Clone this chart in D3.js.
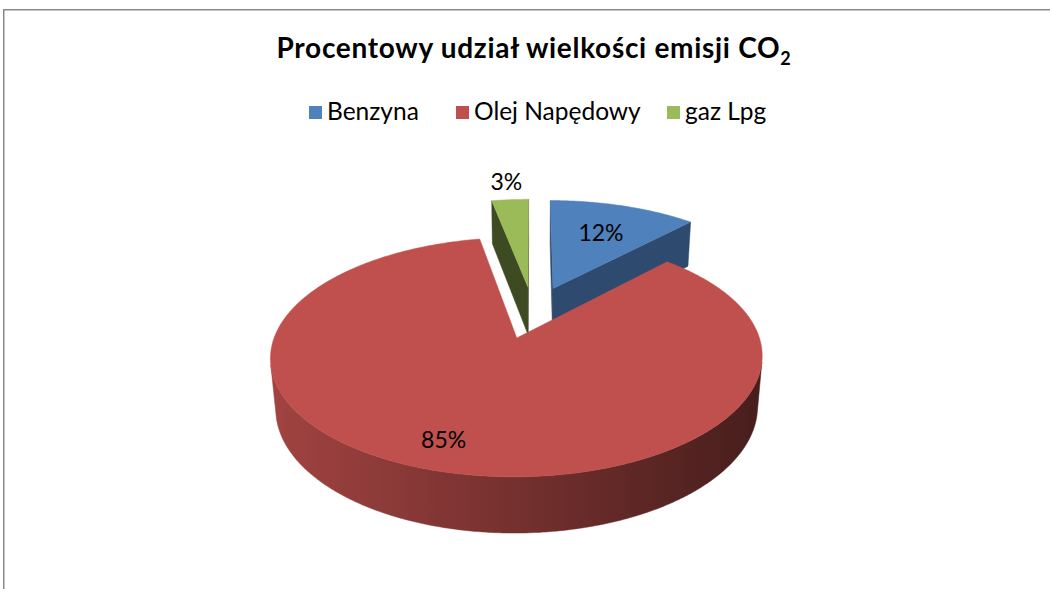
<!DOCTYPE html>
<html><head><meta charset="utf-8">
<script src="https://cdn.jsdelivr.net/npm/d3@7"></script>
<style>body{margin:0;background:#fff} svg{display:block}</style>
</head><body>
<svg id="chart" width="1050" height="589"></svg>
<script>
// ---- data ----
const categories = ["Benzyna", "Olej Napędowy", "gaz Lpg"];
const values = [12, 85, 3];
const labelTexts = ["12%", "85%", "3%"];
const titleMain = "Procentowy udział wielkości emisji CO";
const titleSub = "2";
// ---- style ----
const topColors = ["#4F81BD", "#C0504D", "#9BBB59"];
const radialColors = ["#2E4A6F", "#7A302E", "#3D4A22"];
const labelPlace = [{da: 0, r: 0.65}, {da: 2.5, r: 0.8}, {da: 0, r: 1.25}];
const FONT = "Lato, 'Open Sans', sans-serif";

const W = 1050, H = 589;
const svg = d3.select("#chart");
const defs = svg.append("defs");
svg.append("rect").attr("width", W).attr("height", H).attr("fill", "#fff");
svg.append("path").attr("d", "M3.75,589 V9.75 H1050").attr("fill", "none")
  .attr("stroke", "#8a8a8a").attr("stroke-width", 1.5);

// ---- 3D projection ----
const view = {cx: 533, cy: 312, s: 234, tilt: 27.6 * Math.PI / 180, p: 0.175, explode: 0.24, depth: 0.24};
const ca = Math.cos(view.tilt), sa = Math.sin(view.tilt);
const D = 1 / view.p;
const cam = [0, D * sa, -D * ca];
function project(X, Y, Z) {
  const den = 1 + view.p * (Z * ca - Y * sa);
  return [view.cx + view.s * X / den, view.cy - view.s * (Y * ca + Z * sa) / den];
}
function depthOf(X, Y, Z) { return Z * ca - Y * sa; }
function visible(n, P) {
  return n[0] * (cam[0] - P[0]) + n[1] * (cam[1] - P[1]) + n[2] * (cam[2] - P[2]) > 0;
}

const pie = d3.pie().sort(null).value(d => d).startAngle(0).endAngle(2 * Math.PI);
const arcs = pie(values);
const color = d3.scaleOrdinal().domain(categories).range(topColors);
const line = d3.line();

const sideFaces = [], topFaces = [];
const step = Math.PI / 360;
arcs.forEach((a, i) => {
  const m = (a.startAngle + a.endAngle) / 2;
  const ox = view.explode * Math.sin(m), oz = view.explode * Math.cos(m);
  const pt = (t, r, Y) => [ox + r * Math.sin(t), Y, oz + r * Math.cos(t)];
  const hY = -view.depth;
  const base = d3.color(color(categories[i]));
  const light = d3.interpolateRgb(base, "#000")(0.16);
  const dark = d3.interpolateRgb(base, "#000")(0.63);
  // curved outer side: collect visible angles, build one polygon with gradient
  const n = Math.max(2, Math.ceil((a.endAngle - a.startAngle) / step));
  const vis = [];
  for (let k = 0; k <= n; k++) {
    const t = a.startAngle + (a.endAngle - a.startAngle) * k / n;
    const nrm = [Math.sin(t), 0, Math.cos(t)];
    if (visible(nrm, pt(t, 1, hY / 2))) vis.push(t);
  }
  if (vis.length > 1) {
    const topArc = vis.map(t => project(...pt(t, 1, 0)));
    const botArc = vis.map(t => project(...pt(t, 1, hY))).reverse();
    const poly = topArc.concat(botArc);
    const xs = poly.map(p => p[0]);
    const gid = "side" + i;
    const grad = defs.append("linearGradient").attr("id", gid)
      .attr("gradientUnits", "userSpaceOnUse")
      .attr("x1", d3.min(xs)).attr("x2", d3.max(xs)).attr("y1", 0).attr("y2", 0);
    grad.append("stop").attr("offset", 0).attr("stop-color", light);
    grad.append("stop").attr("offset", 1).attr("stop-color", dark);
    const tm = vis[Math.floor(vis.length / 2)];
    sideFaces.push({poly, fill: `url(#${gid})`, depth: depthOf(...pt(tm, 1, hY / 2))});
  }
  // radial faces
  [[a.startAngle, [-Math.cos(a.startAngle), 0, Math.sin(a.startAngle)]],
   [a.endAngle, [Math.cos(a.endAngle), 0, -Math.sin(a.endAngle)]]].forEach(([t, nrm]) => {
    const P = pt(t, 0.5, hY / 2);
    if (!visible(nrm, P)) return;
    const quad = [pt(t, 0, 0), pt(t, 1, 0), pt(t, 1, hY), pt(t, 0, hY)];
    sideFaces.push({poly: quad.map(q => project(...q)), fill: radialColors[i], depth: depthOf(...P)});
  });
  // top face
  const topPts = [pt(0, 0, 0)];
  for (let k = 0; k <= n; k++) {
    const t = a.startAngle + (a.endAngle - a.startAngle) * k / n;
    topPts.push(pt(t, 1, 0));
  }
  topFaces.push({poly: topPts.map(q => project(...q)), fill: color(categories[i]), depth: depthOf(...pt(m, 0.5, 0))});
  // label
  const lp = labelPlace[i];
  const lt = m + lp.da * Math.PI / 180;
  a.labelPos = project(...pt(lt, lp.r, 0));
});

const g = svg.append("g");
sideFaces.sort((u, v) => v.depth - u.depth);
topFaces.sort((u, v) => v.depth - u.depth);
[...sideFaces, ...topFaces].forEach(f => {
  g.append("path").attr("d", line(f.poly) + "Z").attr("fill", f.fill)
    .attr("stroke", f.fill).attr("stroke-width", 0.5).attr("stroke-linejoin", "round");
});

// labels
svg.append("g").selectAll("text").data(arcs).join("text")
  .attr("x", d => d.labelPos[0]).attr("y", d => d.labelPos[1])
  .attr("text-anchor", "middle").attr("dominant-baseline", "central")
  .attr("font-family", FONT).attr("font-size", 23)
  .attr("fill", "#000").text((d, i) => labelTexts[i]);

// title
const title = svg.append("text").attr("x", 534).attr("y", 58).attr("text-anchor", "middle")
  .attr("font-family", FONT).attr("font-weight", "bold")
  .attr("font-size", 28).attr("letter-spacing", 0.7).attr("fill", "#000");
title.append("tspan").text(titleMain);
title.append("tspan").attr("font-size", 18).attr("dy", 7).text(titleSub);

// legend
const legendX = [309, 456, 667];
const lg = svg.append("g");
categories.forEach((c, i) => {
  lg.append("rect").attr("x", legendX[i]).attr("y", 106).attr("width", 13).attr("height", 13)
    .attr("fill", color(c));
  lg.append("text").attr("x", legendX[i] + 18).attr("y", 120)
    .attr("font-family", FONT).attr("font-size", 24.5)
    .attr("fill", "#000").text(c);
});
</script>
</body></html>
